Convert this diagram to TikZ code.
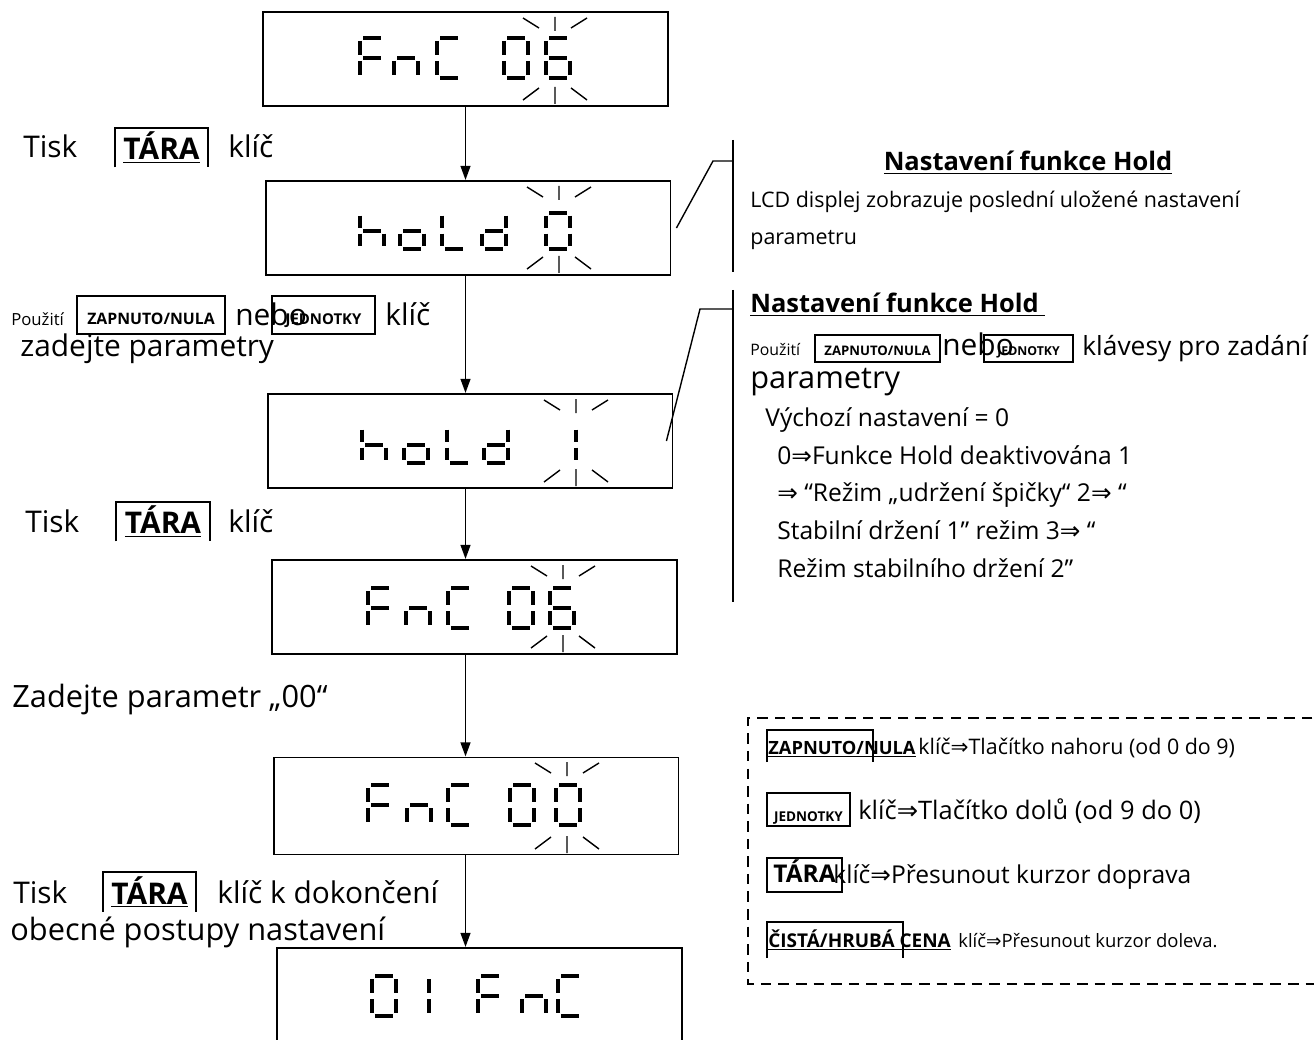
\documentclass[tikz,border=0pt]{standalone}
\usepackage{fontspec}
\setmainfont{Open Sans}
\newfontfamily\symfont{DejaVu Sans}
\usetikzlibrary{positioning, arrows.meta, calc}
\newcommand{\imp}{{\symfont ⇒}}
% seven-segment pieces, cell 24 x 40, y downwards
\newcommand{\lcda}{(3,0) -- (21,0)}
\newcommand{\lcdb}{(24,3) -- (24,17)}
\newcommand{\lcdc}{(24,23) -- (24,37)}
\newcommand{\lcdd}{(3,40) -- (21,40)}
\newcommand{\lcde}{(0,23) -- (0,37)}
\newcommand{\lcdf}{(0,3) -- (0,17)}
\newcommand{\lcdg}{(3,20) -- (21,20)}
\newcommand{\lcdchar}[4][]{%
  \begin{scope}[shift={(#2,#3)}, #1]
    \foreach \s in {#4} {\draw[lcdseg] \csname lcd\s\endcsname;}
  \end{scope}}
\newcommand{\lcdblink}[3]{%
  \draw[blink] (#1,#2+5) -- (#1,#2+19) (#1-32,#2+6) -- (#1-16,#2+16) (#1+16,#2+16) -- (#1+32,#2+6);
  \draw[blink] (#1,#3-2) -- (#1,#3-19) (#1-32,#3-6) -- (#1-16,#3-18) (#1+16,#3-18) -- (#1+32,#3-6);}

\begin{document}
\begin{tikzpicture}[x=0.02cm, y=-0.02cm,
    disp/.style={draw, line width=1.1pt, minimum width=8.1cm, minimum height=1.88cm},
    flow/.style={line width=1.1pt, -{Triangle[length=8pt, width=5.5pt]}},
    lcdseg/.style={line width=1.8pt},
    blink/.style={line width=0.8pt},
    callout/.style={line width=0.8pt},
    keyline/.style={line width=1.1pt},
    lefttxt/.style={anchor=base west, inner sep=0pt, font=\fontsize{17}{20}\selectfont},
    notetxt/.style={anchor=base west, inner sep=0pt, font=\fontsize{14}{17}\selectfont},
    smalltxt/.style={anchor=base west, inner sep=0pt, font=\fontsize{9.5}{11}\selectfont},
    titletxt/.style={inner sep=0pt, font=\bfseries\fontsize{14.5}{17}\selectfont},
    keybox/.style={draw, line width=1.1pt, inner sep=0pt, text depth=0pt, font=\bfseries\fontsize{9}{10}\selectfont},
    openkey/.style={inner sep=0pt, minimum height=0.78cm, font=\bfseries\fontsize{17}{20}\selectfont},
    dashbox/.style={line width=1.2pt, dash pattern=on 6pt off 4pt}]
  \useasboundingbox (0,0) rectangle (1314,1040);
  \clip (0,0) rectangle (1314,1040);

  % displays
  \node[disp] (disp1) at (465.5,59) {};
  \node[disp] (disp2) at (468,228) {};
  \node[disp] (disp3) at (470,441) {};
  \node[disp] (disp4) at (474.5,607) {};
  \node[disp, minimum height=1.94cm] (disp5) at (476,806) {};
  \node[disp] (disp6) at (479.5,995) {};

  \draw[flow] (disp1.south -| disp1) -- (disp2.north -| disp1);
  \draw[flow] (disp2.south -| disp1) -- (disp3.north -| disp1);
  \draw[flow] (disp3.south -| disp1) -- (disp4.north -| disp1);
  \draw[flow] (disp4.south -| disp1) -- (disp5.north -| disp1);
  \draw[flow] (disp5.south -| disp1) -- (disp6.north -| disp1);

  % FnC 06
  \lcdchar{360}{38}{a,f,e,g}
  \lcdchar{394}{38}{g,e,c}
  \lcdchar{437}{38}{a,f,e,d}
  \lcdchar{504}{38}{a,b,c,d,e,f}
  \lcdchar{546}{38}{a,f,e,g,c,d}
  \lcdblink{555}{12}{106}
  % hold 0
  \lcdchar[yscale=.9]{360}{213}{f,e,g,c}
  \lcdchar[yscale=.9]{400}{213}{g,e,c,d}
  \lcdchar[yscale=.9]{442}{213}{f,e,d}
  \lcdchar[yscale=.9]{482}{213}{b,c,d,e,g}
  \lcdchar[yscale=.9]{546}{213}{a,b,c,d,e,f}
  \lcdblink{559}{181}{275}
  % hold 1
  \lcdchar[yscale=.9]{362}{427}{f,e,g,c}
  \lcdchar[yscale=.9]{404}{427}{g,e,c,d}
  \lcdchar[yscale=.9]{447}{427}{f,e,d}
  \lcdchar[yscale=.9]{484}{427}{b,c,d,e,g}
  \lcdchar[yscale=.9]{552}{427}{b,c}
  \lcdblink{576}{394}{488}
  % FnC 06
  \lcdchar{368}{588}{a,f,e,g}
  \lcdchar{406}{588}{g,e,c}
  \lcdchar{448}{588}{a,f,e,d}
  \lcdchar{509}{588}{a,b,c,d,e,f}
  \lcdchar{550}{588}{a,f,e,g,c,d}
  \lcdblink{563}{560}{654}
  % FnC 00
  \lcdchar{368}{785}{a,f,e,g}
  \lcdchar{407}{785}{g,e,c}
  \lcdchar{448}{785}{a,f,e,d}
  \lcdchar{510}{785}{a,b,c,d,e,f}
  \lcdchar{556}{785}{a,b,c,d,e,f}
  \lcdblink{567}{757}{855}
  % 01FnC
  \lcdchar{372}{976}{a,b,c,d,e,f}
  \lcdchar{405}{976}{b,c}
  \lcdchar{478}{976}{a,f,e,g}
  \lcdchar{522}{976}{g,e,c}
  \lcdchar{558}{976}{a,f,e,d}

  % left column
  \node[lefttxt] (tisk1) at (23,158) {Tisk};
  \node[openkey, minimum width=1.86cm] (tara1) at (161.5,147.5) {\underline{TÁRA}};
  \draw[keyline] (tara1.south west) -- (tara1.north west) -- (tara1.north east) -- (tara1.south east);
  \node[lefttxt] (klic1) at (228,158) {klíč};

  \node[smalltxt] (pouz1) at (11,325) {Použití};
  \node[keybox, text height=11pt, minimum width=2.96cm, minimum height=0.76cm] (zap1) at (151,315) {ZAPNUTO/NULA};
  \node[lefttxt] (nebo1) at (235,325) {nebo};
  \node[keybox, text height=11pt, font=\bfseries\fontsize{8.5}{10}\selectfont, minimum width=2.06cm, minimum height=0.76cm] (jed1) at (323.5,315) {JEDNOTKY};
  \node[lefttxt] (klic2) at (385,325) {klíč};
  \node[lefttxt] (zad1) at (20,357) {zadejte parametry};

  \node[lefttxt] (tisk2) at (25,532) {Tisk};
  \node[openkey, minimum width=1.88cm] (tara2) at (163,521.5) {\underline{TÁRA}};
  \draw[keyline] (tara2.south west) -- (tara2.north west) -- (tara2.north east) -- (tara2.south east);
  \node[lefttxt] (klic3) at (228,532) {klíč};

  \node[lefttxt, font=\fontsize{17.5}{20}\selectfont] (zad2) at (12,707) {Zadejte parametr „00“};

  \node[lefttxt] (tisk3) at (13,903) {Tisk};
  \node[openkey, minimum width=1.86cm] (tara3) at (149.5,892) {\underline{TÁRA}};
  \draw[keyline] (tara3.south west) -- (tara3.north west) -- (tara3.north east) -- (tara3.south east);
  \node[lefttxt] (klic4) at (217,903) {klíč k dokončení};
  \node[lefttxt, font=\fontsize{17.5}{20}\selectfont] (obec) at (10,940) {obecné postupy nastavení};

  % first note
  \coordinate (br1t) at (733,140);
  \coordinate (br1b) at (733,272);
  \coordinate (kink1) at (713,161);
  \draw[callout] (br1t) -- (br1b);
  \draw[callout] ([xshift=0.1cm]disp2.east) -- (kink1) -- (kink1 -| br1t);
  \node[titletxt] (hold1) at (1028,163) {\underline{Nastavení funkce Hold}};
  \node[notetxt, font=\fontsize{12.2}{14}\selectfont] (lcd1) at (750,208) {LCD displej zobrazuje poslední uložené nastavení};
  \node[notetxt, font=\fontsize{12.2}{14}\selectfont] (parm1) at (750,245) {parametru};

  % second note
  \coordinate (br2t) at (733,290);
  \coordinate (br2b) at (733,602);
  \coordinate (kink2) at (700,309);
  \draw[callout] (br2t) -- (br2b);
  \draw[callout] ([xshift=-0.14cm]disp3.east) -- (kink2) -- (kink2 -| br2t);
  \node[titletxt, anchor=base west] (hold2) at (750,313) {\underline{Nastavení funkce Hold\ }};
  \node[smalltxt, font=\fontsize{9}{11}\selectfont] (pouz2) at (750,356) {Použití};
  \node[keybox, text height=8.5pt, font=\bfseries\fontsize{7.5}{9}\selectfont, minimum width=2.5cm, minimum height=0.54cm] (zap2) at (877.5,348.5) {ZAPNUTO/NULA};
  \node[lefttxt] (nebo2) at (942,356) {nebo};
  \node[keybox, text height=8.5pt, font=\bfseries\fontsize{7}{9}\selectfont, minimum width=1.78cm, minimum height=0.54cm] (jed2) at (1028.5,348.5) {JEDNOTKY};
  \node[lefttxt, font=\fontsize{15}{17}\selectfont] (klav) at (1082,356) {klávesy pro zadání};
  \node[lefttxt, font=\fontsize{17.5}{20}\selectfont] (parm2) at (750,388) {parametry};
  \node[notetxt] (vych) at (765,426) {Výchozí nastavení = 0};
  \node[notetxt] (opt1) at (777,464) {0\imp Funkce Hold deaktivována 1};
  \node[notetxt] (opt2) at (777,501) {\imp{} “Režim „udržení špičky“ 2\imp{} “};
  \node[notetxt] (opt3) at (777,539) {Stabilní držení 1” režim 3\imp{} “};
  \node[notetxt] (opt4) at (777,577) {Režim stabilního držení 2”};

  % key legend
  \coordinate (dtl) at (748,718);
  \coordinate (dbr) at (1330,984);
  \draw[dashbox] (dtl -| dbr) -- (dtl) -- (dtl |- dbr) -- (dbr);
  \node[smalltxt, font=\bfseries\fontsize{10.4}{12}\selectfont] (zap3) at (768,754) {\underline{ZAPNUTO/NULA}};
  \draw[keyline] (767,762) |- (873,730) -- (873,762);
  \node[smalltxt, font=\fontsize{12.2}{14}\selectfont] (leg1) at (918,754) {klíč\imp Tlačítko nahoru (od 0 do 9)};
  \node[keybox, text height=14pt, font=\bfseries\fontsize{7.7}{9}\selectfont, minimum width=1.66cm, minimum height=0.66cm] (jed3) at (808.5,809.5) {JEDNOTKY};
  \node[notetxt, font=\fontsize{14.5}{17}\selectfont] (leg2) at (858,819) {klíč\imp Tlačítko dolů (od 9 do 0)};
  \node[keybox, text height=9pt, font=\bfseries\fontsize{13.9}{16}\selectfont, minimum width=1.5cm, minimum height=0.68cm] (tara4) at (804.5,875) {TÁRA};
  \node[notetxt] (leg3) at (833,883) {klíč\imp Přesunout kurzor doprava};
  \node[smalltxt, font=\bfseries\fontsize{10.8}{12}\selectfont] (cist) at (768,947) {\underline{ČISTÁ/HRUBÁ CENA}};
  \draw[keyline] (767,958) |- (903,922) -- (903,958);
  \node[smalltxt, font=\fontsize{10.5}{12}\selectfont] (leg4) at (958,947) {klíč\imp Přesunout kurzor doleva.};
\end{tikzpicture}
\end{document}
